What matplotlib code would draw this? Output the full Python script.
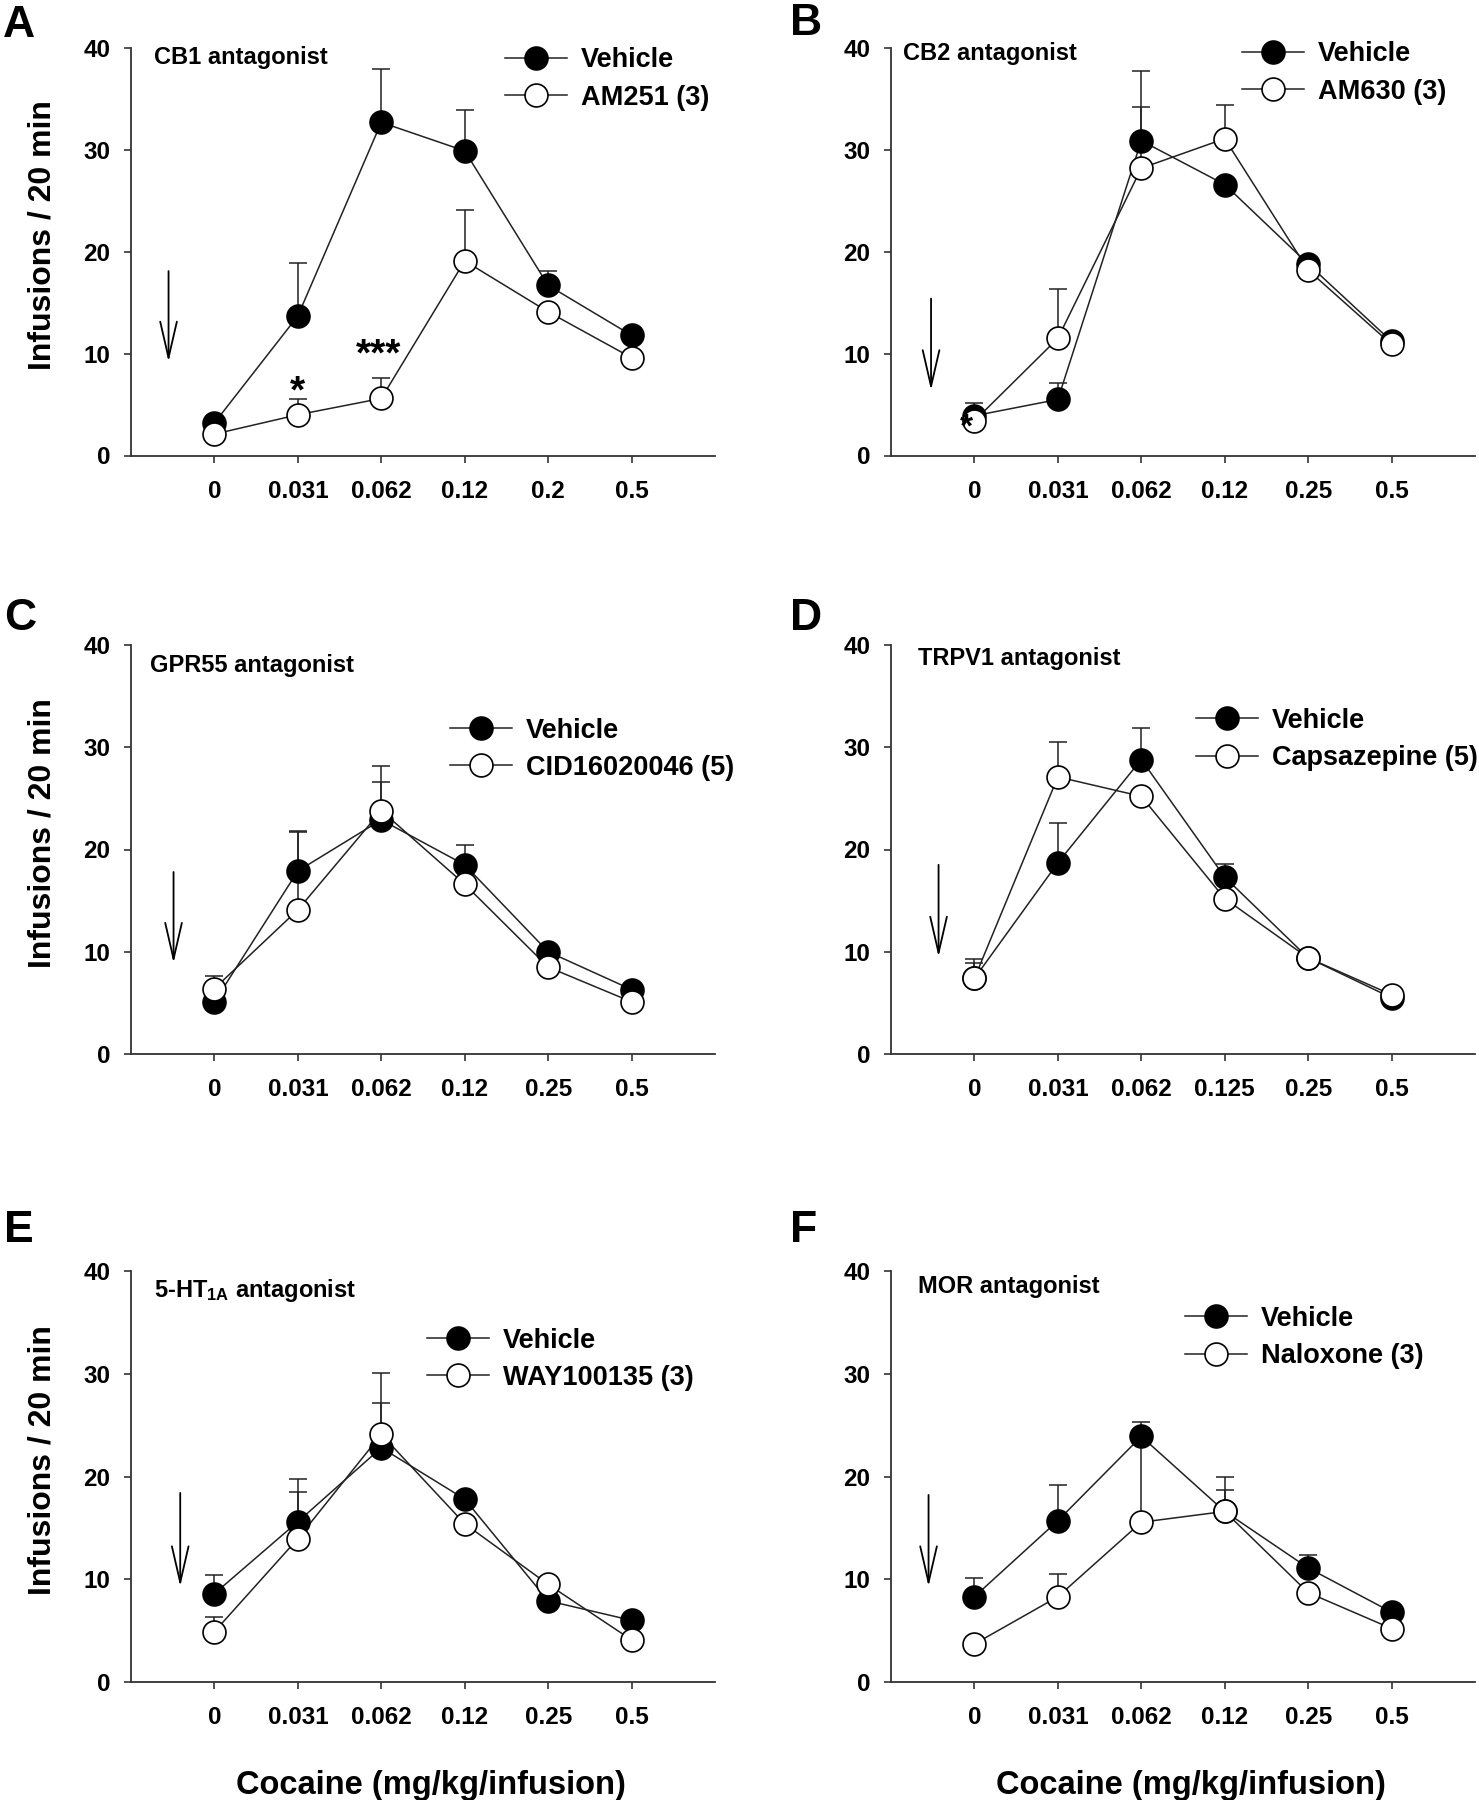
import matplotlib
matplotlib.use('Agg')
import matplotlib.pyplot as plt
from matplotlib.lines import Line2D
import numpy as np

plt.rcParams['font.family'] = ['Liberation Sans', 'DejaVu Sans']
plt.rcParams['font.weight'] = 'bold'
plt.rcParams['mathtext.fontset'] = 'custom'
plt.rcParams['mathtext.bf'] = 'Liberation Sans:bold'
plt.rcParams['mathtext.rm'] = 'Liberation Sans:bold'
plt.rcParams['mathtext.it'] = 'Liberation Sans:bold'

# ---------------- data ----------------
doses_A = ['0', '0.031', '0.062', '0.12', '0.2', '0.5']
veh_A = [3.2, 13.7, 32.7, 29.9, 16.7, 11.8]
veh_err_A = [0, 5.2, 5.2, 4.0, 1.4, 0]
drug_A = [2.1, 4.0, 5.6, 19.1, 14.1, 9.6]
drug_err_A = [0, 1.5, 2.0, 5.0, 0, 0]

doses_B = ['0', '0.031', '0.062', '0.12', '0.25', '0.5']
veh_B = [3.9, 5.5, 30.9, 26.6, 18.8, 11.2]
veh_err_B = [1.3, 1.6, 6.8, 0, 0, 0]
drug_B = [3.4, 11.5, 28.2, 31.1, 18.2, 10.9]
drug_err_B = [0, 4.8, 6.0, 3.3, 0, 0]

doses_C = ['0', '0.031', '0.062', '0.12', '0.25', '0.5']
veh_C = [5.1, 17.9, 22.9, 18.5, 10.0, 6.3]
veh_err_C = [0, 3.9, 3.7, 1.9, 0, 0]
drug_C = [6.4, 14.1, 23.8, 16.6, 8.5, 5.1]
drug_err_C = [1.2, 7.6, 4.4, 0, 0, 0]

doses_D = ['0', '0.031', '0.062', '0.125', '0.25', '0.5']
veh_D = [7.4, 18.7, 28.8, 17.3, 9.4, 5.5]
veh_err_D = [1.9, 3.9, 3.1, 1.3, 0, 0]
drug_D = [7.4, 27.1, 25.2, 15.2, 9.4, 5.8]
drug_err_D = [1.5, 3.4, 0, 0, 0, 0]

doses_E = ['0', '0.031', '0.062', '0.12', '0.25', '0.5']
veh_E = [8.6, 15.6, 22.8, 17.8, 7.9, 6.0]
veh_err_E = [1.8, 4.2, 4.4, 0, 0, 0]
drug_E = [4.9, 13.95, 24.1, 15.4, 9.5, 4.1]
drug_err_E = [1.4, 4.55, 6.0, 0, 0, 0]

doses_F = ['0', '0.031', '0.062', '0.12', '0.25', '0.5']
veh_F = [8.3, 15.7, 23.9, 16.6, 11.1, 6.8]
veh_err_F = [1.8, 3.5, 0, 2.1, 1.3, 0]
drug_F = [3.7, 8.3, 15.55, 16.6, 8.7, 5.2]
drug_err_F = [0, 2.2, 9.75, 3.4, 0, 0]

panel_letters = ['A', 'B', 'C', 'D', 'E', 'F']
titles = ['CB1 antagonist', 'CB2 antagonist', 'GPR55 antagonist',
          'TRPV1 antagonist', r'5-HT$_{\mathbf{1A}}$ antagonist', 'MOR antagonist']
drug_names = ['AM251 (3)', 'AM630 (3)', 'CID16020046 (5)',
              'Capsazepine (5)', 'WAY100135 (3)', 'Naloxone (3)']
vehicle_name = 'Vehicle'
ylabel_text = 'Infusions / 20 min'
xlabel_text = 'Cocaine (mg/kg/infusion)'
y_ticks = [0, 10, 20, 30, 40]

# annotation placement (data coords)
title_pos = [(-0.72, 39.05), (-0.86, 39.5), (-0.77, 38.0),
             (-0.68, 38.7), (-0.72, 38.15), (-0.68, 38.5)]
legend_pos = [(3.85, 39.0), (3.57, 39.6), (3.19, 31.85),
              (3.02, 32.8), (2.91, 33.45), (2.89, 35.55)]
arrow_pos = [(-0.55, 18.1, 9.2), (-0.52, 15.4, 6.4), (-0.49, 17.8, 8.9),
             (-0.43, 18.5, 9.5), (-0.41, 18.4, 9.3), (-0.55, 18.2, 9.3)]

panels = [
    (doses_A, veh_A, veh_err_A, drug_A, drug_err_A),
    (doses_B, veh_B, veh_err_B, drug_B, drug_err_B),
    (doses_C, veh_C, veh_err_C, drug_C, drug_err_C),
    (doses_D, veh_D, veh_err_D, drug_D, drug_err_D),
    (doses_E, veh_E, veh_err_E, drug_E, drug_err_E),
    (doses_F, veh_F, veh_err_F, drug_F, drug_err_F),
]

# ---------------- layout ----------------
W, H = 1479, 1800
fig = plt.figure(figsize=(W / 100, H / 100), dpi=100)
col_x = [131 / W, 891 / W]
col_w = 584 / W
rows = [(1 - 455.5 / H, 407.5 / H), (1 - 1054 / H, 409 / H), (1 - 1682 / H, 411 / H)]
letter_pos = [(3, 37), (790, 35), (4, 630), (790, 630), (4, 1242), (790, 1242)]

MS = 16.5
LW = 1.1
LEG_FS = 19.5
TICK_FS = 17.5

for i, (doses, veh, veh_err, drug, drug_err) in enumerate(panels):
    r, c = divmod(i, 2)
    ax = fig.add_axes([col_x[c], rows[r][0], col_w, rows[r][1]])
    x = np.arange(len(doses))
    veh = np.array(veh); drug = np.array(drug)
    veh_err = np.array(veh_err); drug_err = np.array(drug_err)

    for y, e in ((veh, veh_err), (drug, drug_err)):
        m = e > 0
        if m.any():
            ax.errorbar(x[m], y[m], yerr=[np.zeros(m.sum()), e[m]], fmt='none',
                        ecolor='#222222', elinewidth=1.1, capsize=6.5, capthick=1.1,
                        zorder=1.5)
    ax.plot(x, veh, '-', color='#222222', lw=LW, zorder=2)
    ax.plot(x, drug, '-', color='#222222', lw=LW, zorder=2)
    ax.plot(x, veh, 'o', ls='none', ms=MS, mfc='black', mec='black', mew=1.2, zorder=3)
    ax.plot(x, drug, 'o', ls='none', ms=MS, mfc='white', mec='black', mew=1.2, zorder=4)

    ax.set_xlim(-1, 6)
    ax.set_ylim(0, 40)
    ax.set_xticks(x)
    ax.set_xticklabels(doses)
    ax.set_yticks(y_ticks)
    for s in ('top', 'right'):
        ax.spines[s].set_visible(False)
    for s in ('left', 'bottom'):
        ax.spines[s].set_linewidth(1.3)
        ax.spines[s].set_color('#333333')
    ax.tick_params(axis='x', length=5, width=1.2, pad=12.5, labelsize=TICK_FS,
                   colors='#333333', labelcolor='black')
    ax.tick_params(axis='y', length=5, width=1.2, pad=10, labelsize=TICK_FS,
                   colors='#333333', labelcolor='black')
    for lab in ax.get_xticklabels() + ax.get_yticklabels():
        lab.set_fontweight('bold')

    tx, ty = title_pos[i]
    ax.text(tx, ty, titles[i], fontsize=17, fontweight='bold', ha='left', va='center')

    ax_, y0, y1 = arrow_pos[i]
    ax.annotate('', xy=(ax_, y1), xytext=(ax_, y0),
                arrowprops=dict(arrowstyle='->,head_length=1.3,head_width=0.3',
                                lw=1.3, color='black', mutation_scale=20,
                                shrinkA=0, shrinkB=0))

    lx, ly = legend_pos[i]
    h_veh = Line2D([], [], color='#222222', lw=LW, marker='o', ms=MS,
                   mfc='black', mec='black', mew=1.2)
    h_drug = Line2D([], [], color='#222222', lw=LW, marker='o', ms=MS,
                    mfc='white', mec='black', mew=1.2)
    ax.legend([h_veh, h_drug], [vehicle_name, drug_names[i]],
              loc='upper left', bbox_to_anchor=(lx - 0.365, ly + 1.05),
              bbox_transform=ax.transData, frameon=False, borderpad=0,
              borderaxespad=0, handlelength=2.3, handletextpad=0.5,
              labelspacing=0.42, numpoints=1,
              prop={'size': LEG_FS, 'weight': 'bold'})

    if c == 0:
        ax.set_ylabel(ylabel_text, fontsize=23, fontweight='bold')
        ax.yaxis.set_label_coords(-0.125, 0.54)
    if r == 2:
        ax.set_xlabel(xlabel_text, fontsize=23.5, fontweight='bold')
        ax.xaxis.set_label_coords(0.514, -0.215)

    px, py = letter_pos[i]
    fig.text(px / W, 1 - py / H, panel_letters[i], fontsize=32, fontweight='bold',
             ha='left', va='baseline')

# significance markers
axes = fig.axes
axes[0].text(1, 5.2, '*', fontsize=28, fontweight='bold', ha='center', va='baseline')
axes[0].text(1.97, 8.85, '***', fontsize=28, fontweight='bold', ha='center', va='baseline')
axes[1].text(-0.09, 1.9, '*', fontsize=24, fontweight='bold', ha='center', va='baseline',
             zorder=6)

fig.savefig('out.png', dpi=100)
